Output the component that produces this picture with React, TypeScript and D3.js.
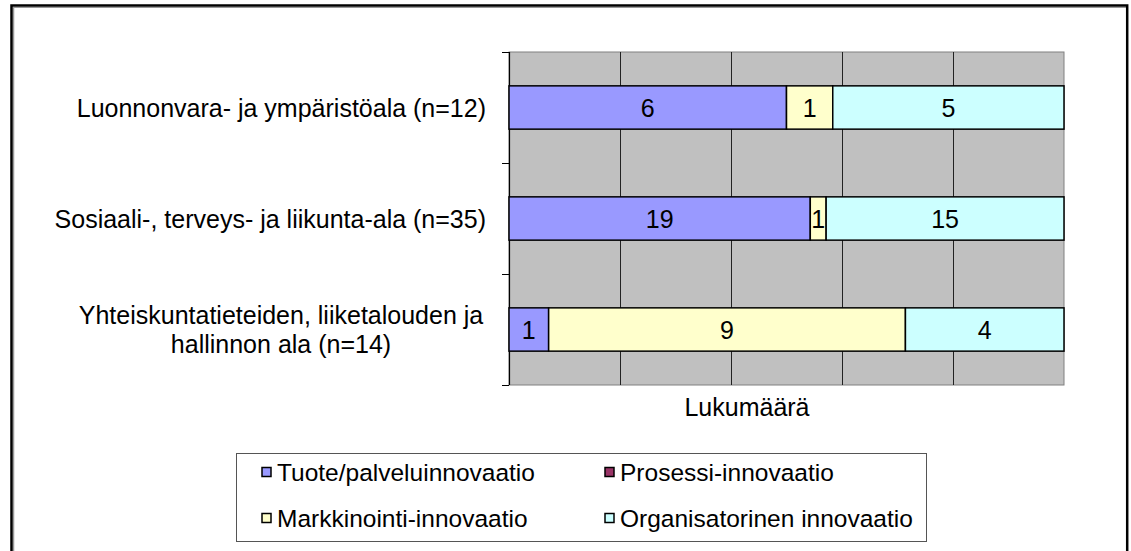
import React from "react";
import * as d3 from "d3";

const categories = [
  "Luonnonvara- ja ympäristöala (n=12)",
  "Sosiaali-, terveys- ja liikunta-ala (n=35)",
  "Yhteiskuntatieteiden, liiketalouden ja|hallinnon ala (n=14)",
];
const seriesNames = [
  "Tuote/palveluinnovaatio",
  "Prosessi-innovaatio",
  "Markkinointi-innovaatio",
  "Organisatorinen innovaatio",
];
const tuote = [6, 19, 1];
const prosessi = [0, 0, 0];
const markkinointi = [1, 1, 9];
const organisatorinen = [5, 15, 4];
const seriesColors = ["#9999FF", "#993366", "#FFFFCC", "#CCFFFF"];
const axisTitle = "Lukumäärä";

const FONT = "'Liberation Sans', Arial, sans-serif";

export default function App() {
  const W = 1131, H = 551;
  const plot = { left: 509, right: 1064, top: 52, bottom: 385 };
  const x = d3.scaleLinear().domain([0, 1]).range([plot.left, plot.right]);
  const y = d3
    .scaleBand<string>()
    .domain(categories)
    .range([plot.top, plot.bottom])
    .paddingInner(0.61)
    .paddingOuter(0.305);

  const rows = categories.map((c, i) => {
    const r: any = { cat: c };
    r[seriesNames[0]] = tuote[i];
    r[seriesNames[1]] = prosessi[i];
    r[seriesNames[2]] = markkinointi[i];
    r[seriesNames[3]] = organisatorinen[i];
    return r;
  });
  const stack = d3.stack<any>().keys(seriesNames).offset(d3.stackOffsetExpand);
  const stacked = stack(rows);
  const grid = x.ticks(5).filter((t) => t > 0 && t < 1);
  const step = y.step();
  const boundaries = d3.range(categories.length + 1).map((i) => plot.top + i * step);

  const legendRows = [
    [0, 1],
    [2, 3],
  ];
  const legendCols = [262, 605];
  const legendY = [472, 518];
  const fs = 25;

  return (
    <svg width={W} height={H} style={{ position: "absolute", left: 0, top: 0 }} fontFamily={FONT}>
      <rect x={0} y={0} width={W} height={H} fill="#fff" />
      {/* outer frame */}
      <line x1={13.5} y1={7} x2={13.5} y2={H} stroke="#999" strokeWidth={1.5} />
      <line x1={13} y1={7.5} x2={1126} y2={7.5} stroke="#999" strokeWidth={1} />
      <path d={`M11.5,${H + 2} V5.5 H1127.2 V${H + 2}`} fill="none" stroke="#000" strokeWidth={2.5} />

      {/* plot area */}
      <rect x={plot.left} y={plot.top} width={plot.right - plot.left} height={plot.bottom - plot.top} fill="#C0C0C0" stroke="#808080" strokeWidth={1} />
      {grid.map((t) => (
        <line key={t} x1={Math.round(x(t)) + 0.5} x2={Math.round(x(t)) + 0.5} y1={plot.top} y2={plot.bottom} stroke="#222" strokeWidth={1} />
      ))}
      {/* y axis */}
      <line x1={plot.left + 0.5} x2={plot.left + 0.5} y1={plot.top} y2={plot.bottom} stroke="#000" strokeWidth={1.2} />
      {boundaries.map((b, i) => (
        <line key={i} x1={plot.left - 7} x2={plot.left} y1={b + 0.5} y2={b + 0.5} stroke="#000" strokeWidth={1} />
      ))}

      {/* bars */}
      {stacked.map((s, si) =>
        s.map((d, i) => {
          const w = x(d[1]) - x(d[0]);
          if (w <= 0) return null;
          return (
            <rect key={`${si}-${i}`} x={x(d[0])} y={y(categories[i])!} width={w} height={y.bandwidth()} fill={seriesColors[si]} stroke="#000" strokeWidth={1.5} />
          );
        })
      )}
      {stacked.map((s, si) =>
        s.map((d, i) => {
          const v = d.data[seriesNames[si]];
          if (!v) return null;
          return (
            <text key={`t${si}-${i}`} x={(x(d[0]) + x(d[1])) / 2} y={y(categories[i])! + y.bandwidth() / 2} dy="0.36em" textAnchor="middle" fontSize={fs} fill="#000">
              {v}
            </text>
          );
        })
      )}

      {/* category labels */}
      {categories.map((c) => {
        const lines = c.split("|");
        const cy = y(c)! + y.bandwidth() / 2;
        const lh = 28.5;
        if (lines.length === 1) {
          return (
            <text key={c} x={486} y={cy} dy="0.36em" textAnchor="end" fontSize={fs} fill="#000">
              {c}
            </text>
          );
        }
        return (
          <text key={c} x={281} y={cy - ((lines.length - 1) * lh) / 2} textAnchor="middle" fontSize={fs} fill="#000">
            {lines.map((l, li) => (
              <tspan key={li} x={281} dy={li === 0 ? "0.36em" : lh}>
                {l}
              </tspan>
            ))}
          </text>
        );
      })}

      {/* axis title */}
      <text x={747} y={416} textAnchor="middle" fontSize={fs} fill="#000">
        {axisTitle}
      </text>

      {/* legend */}
      <rect x={236.5} y={453.5} width={690} height={88} fill="#fff" stroke="#555" strokeWidth={1} />
      {legendRows.map((row, ri) =>
        row.map((si, ci) => (
          <g key={si}>
            <rect x={legendCols[ci]} y={legendY[ri] - 4.5} width={9} height={9} fill={seriesColors[si]} stroke="#000" strokeWidth={1.5} />
            <text x={legendCols[ci] + 15} y={legendY[ri]} dy="0.36em" fontSize={24.5} fill="#000">
              {seriesNames[si]}
            </text>
          </g>
        ))
      )}
    </svg>
  );
}
